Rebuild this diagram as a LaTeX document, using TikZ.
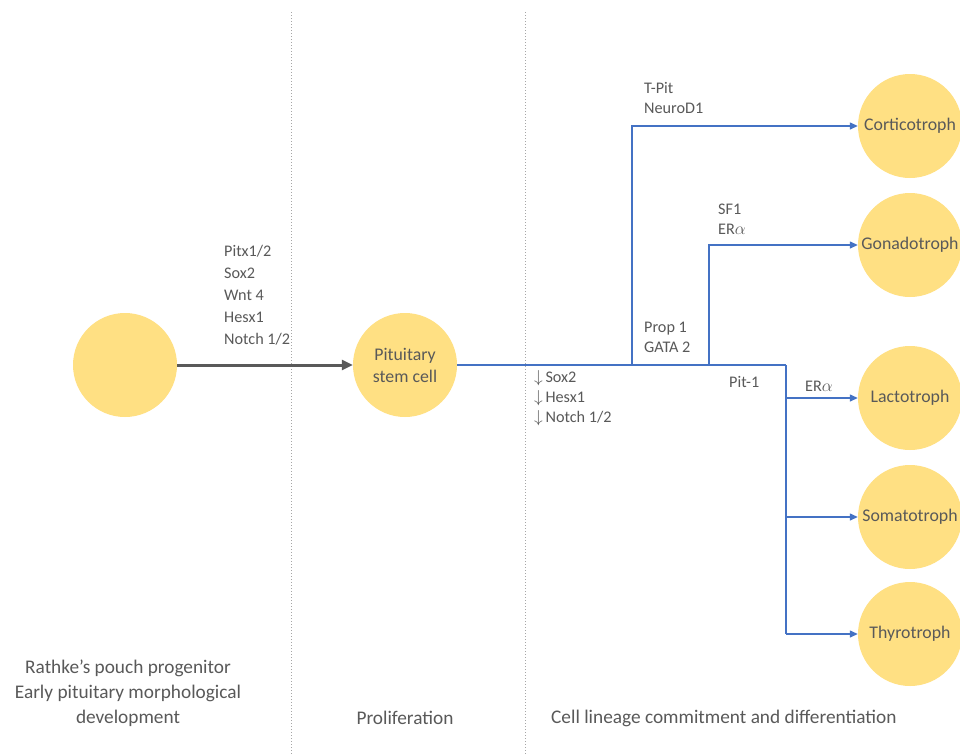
\documentclass[tikz,border=0pt]{standalone}
\usepackage{fontspec}
\setmainfont{Carlito}
\usetikzlibrary{arrows.meta}
\definecolor{cellyellow}{HTML}{FFE083}
\definecolor{txtgray}{HTML}{595959}
\definecolor{lineblue}{HTML}{4472C4}
\definecolor{divgray}{HTML}{A6A6A6}
\tikzset{
  cell/.style={circle, fill=cellyellow, minimum size=104pt, inner sep=0pt, text=txtgray, font=\fontsize{17.8}{22}\selectfont, align=center},
  lbl/.style={text=txtgray, font=\fontsize{16.2}{20}\selectfont, align=left, inner sep=0pt, anchor=west},
  caption/.style={text=txtgray, font=\fontsize{19.3}{25}\selectfont, align=center, inner sep=0pt},
  bluearrow/.style={draw=lineblue, line width=1.3pt, -{Triangle[length=8pt,width=7pt]}},
  blueline/.style={draw=lineblue, line width=1.3pt},
  grayarrow/.style={draw=txtgray, line width=3pt, -{Triangle[length=11pt,width=10pt]}},
  divider/.style={draw=divgray, line width=1pt, dotted}
}
\begin{document}
\begin{tikzpicture}[x=1pt, y=-1pt]
\useasboundingbox (0,0) rectangle (960,755);
\clip (0,0) rectangle (960,755);
\fill[white] (0,0) rectangle (960,755);

% dividers
\coordinate (d1t) at (291,12);
\coordinate (d1b) at (291,755);
\coordinate (d2t) at (525,12);
\coordinate (d2b) at (525,755);
\draw[divider] (d1t) -- (d1b);
\draw[divider] (d2t) -- (d2b);

% cells
\node[cell] (prog) at (125,365) {};
\node[cell] (stem) at (405,365) {Pituitary\\stem cell};
\node[cell] (cort) at (910,126) {Corticotroph};
\node[cell] (gona) at (910,245) {Gonadotroph};
\node[cell] (lact) at (910,398) {Lactotroph};
\node[cell] (soma) at (910,517) {Somatotroph};
\node[cell] (thyr) at (910,634) {Thyrotroph};

% junctions
\coordinate (j1) at (632,365);
\coordinate (j2) at (709,365);
\coordinate (j3) at (786,365);
\coordinate (jl) at (786,398);
\coordinate (js) at (786,517);
\coordinate (jt) at (786,634);

% connectors
\draw[grayarrow] (prog) -- (stem);
\draw[blueline] (stem.east) -- (j3);
\draw[bluearrow] (j1) |- (cort);
\draw[bluearrow] (j2) |- (gona);
\draw[blueline] (j3) -- (jt);
\draw[bluearrow] (jl) -- (lact);
\draw[bluearrow] (js) -- (soma);
\draw[bluearrow] (jt) -- (thyr);

% labels
\node[lbl, font=\fontsize{16.2}{22}\selectfont] (l1) at (224,295) {Pitx1/2\\Sox2\\Wnt 4\\Hesx1\\Notch 1/2};
\node[lbl] (l2) at (644,98) {T-Pit\\NeuroD1};
\node[lbl] (l3) at (718,219) {SF1\\ER$\alpha$};
\node[lbl] (l4) at (644,337) {Prop 1\\GATA 2};
\node[lbl] (l5) at (729,382) {Pit-1};
\node[lbl] (l6) at (805,386) {ER$\alpha$};
\node[lbl] (l7) at (534,398) {$\downarrow$\,Sox2\\$\downarrow$\,Hesx1\\$\downarrow$\,Notch 1/2};

% captions
\node[caption] (c1) at (128,693) {Rathke’s pouch progenitor\\Early pituitary morphological\\development};
\node[caption] (c2) at (405,718) {Proliferation};
\node[caption, anchor=west] (c3) at (551,718) {Cell lineage commitment and differentiation};
\end{tikzpicture}
\end{document}
